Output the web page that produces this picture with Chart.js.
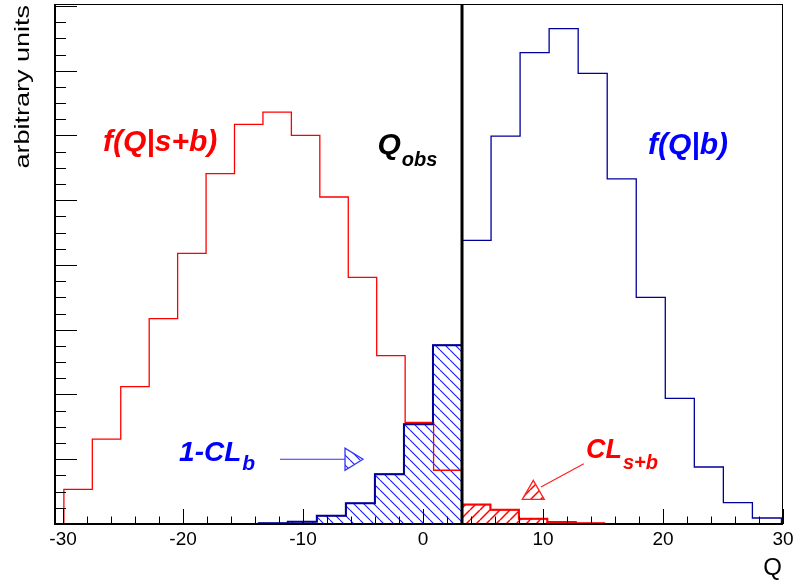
<!DOCTYPE html>
<html>
<head>
<meta charset="utf-8">
<script src="https://cdn.jsdelivr.net/npm/chart.js@4.4.1/dist/chart.umd.min.js"></script>
<style>
  html, body { margin: 0; padding: 0; background: #fff; }
</style>
</head>
<body>
<canvas id="c" width="794" height="582"></canvas>
<script>
// f(Q|s+b) : bin edges and contents (arbitrary units)
var sbEdges = [-29.93, -27.56, -25.19, -22.82, -20.45, -18.08, -15.71, -13.34, -10.97, -8.60,
               -6.23, -3.86, -1.49, 0.88, 3.25, 5.62, 7.99, 10.36, 12.73, 15.10];
var sbValues = [0.535, 1.31, 2.12, 3.17, 4.18, 5.41, 6.17, 6.36, 6.00, 5.05,
                3.81, 2.60, 1.57, 0.83, 0.30, 0.22, 0.08, 0.03, 0.01];

// f(Q|b)
var bEdges = [-13.69, -11.27, -8.85, -6.43, -4.01, -1.59, 0.83, 3.25, 5.67, 8.09,
              10.51, 12.93, 15.35, 17.77, 20.19, 22.61, 25.03, 27.45, 29.87];
var bValues = [0.01, 0.036, 0.128, 0.32, 0.77, 1.54, 2.76, 4.38, 5.99, 7.28,
               7.65, 6.96, 5.33, 3.50, 1.94, 0.88, 0.33, 0.093];

var qObs = 3.25;
var xTickLabels = [-30, -20, -10, 0, 10, 20, 30];
var xMin = -30.67, xMax = 30;
var yMin = 0, yMax = 8.03;

var FONT = '"Liberation Sans", Arial, Helvetica, sans-serif';
var NAVY = '#000099';

// index of first bin right of Q_obs, per histogram
var sbCut = sbEdges.indexOf(qObs);
var bCut = bEdges.indexOf(qObs);

function stepPoints(edges, values, from, to, lo, hi) {
  var pts = [];
  if (lo !== undefined) pts.push({x: lo, y: 0});
  pts.push({x: edges[from], y: 0});
  for (var i = from; i < to; i++) pts.push({x: edges[i], y: values[i]});
  pts.push({x: edges[to], y: 0});
  if (hi !== undefined) pts.push({x: hi, y: 0});
  return pts;
}

// hatch pattern, '\' when back is true, '/' otherwise
function hatch(color, s, width, back) {
  var c = document.createElement('canvas');
  c.width = s; c.height = s;
  var g = c.getContext('2d');
  g.strokeStyle = color;
  g.lineWidth = width;
  g.beginPath();
  [-s, 0, s].forEach(function(off) {
    if (back) { g.moveTo(off, 0); g.lineTo(off + s, s); }
    else { g.moveTo(off, s); g.lineTo(off + s, 0); }
  });
  g.stroke();
  return g.createPattern(c, 'repeat');
}

var blueHatch = hatch('#1a1aff', 10, 1.1, true);
var redHatch = hatch('#ff0000', 10, 1.5, false);

function drawLabel(ctx, x, y, main, sub, size, subSize, drop, color) {
  ctx.save();
  ctx.fillStyle = color;
  ctx.textBaseline = 'alphabetic';
  ctx.textAlign = 'left';
  ctx.font = 'italic bold ' + size + 'px ' + FONT;
  ctx.fillText(main, x, y);
  if (sub) {
    var w = ctx.measureText(main).width;
    ctx.font = 'italic bold ' + subSize + 'px ' + FONT;
    ctx.fillText(sub, x + w + 1, y + drop);
  }
  ctx.restore();
}

function arrowHead(ctx, tipX, tipY, baseX, baseY, half, color, pattern) {
  var dx = tipX - baseX, dy = tipY - baseY;
  var len = Math.sqrt(dx * dx + dy * dy);
  var nx = -dy / len * half, ny = dx / len * half;
  ctx.save();
  ctx.beginPath();
  ctx.moveTo(tipX, tipY);
  ctx.lineTo(baseX + nx, baseY + ny);
  ctx.lineTo(baseX - nx, baseY - ny);
  ctx.closePath();
  ctx.fillStyle = pattern;
  ctx.fill();
  ctx.strokeStyle = color;
  ctx.lineWidth = 1.3;
  ctx.stroke();
  ctx.restore();
}

var decor = {
  id: 'decor',
  afterDatasetsDraw: function(chart) {
    var ctx = chart.ctx, a = chart.chartArea, x = chart.scales.x;
    var px = x.getPixelForValue(qObs);
    ctx.save();
    ctx.strokeStyle = '#000';
    ctx.lineWidth = 3;
    ctx.beginPath();
    ctx.moveTo(px, a.bottom);
    ctx.lineTo(px, a.top);
    ctx.stroke();
    ctx.restore();
  },
  afterDraw: function(chart) {
    var ctx = chart.ctx, a = chart.chartArea;
    var x = chart.scales.x, y = chart.scales.y;
    ctx.save();

    // frame
    ctx.strokeStyle = '#000';
    ctx.lineWidth = 1;
    ctx.strokeRect(a.left + 0.5, a.top + 0.5, a.right - a.left - 1, a.bottom - a.top);
    ctx.lineWidth = 2;
    ctx.beginPath();
    ctx.moveTo(a.left, a.top);
    ctx.lineTo(a.left, a.bottom);
    ctx.lineTo(a.right, a.bottom);
    ctx.stroke();

    // x ticks, inside the frame
    ctx.lineWidth = 1;
    ctx.beginPath();
    for (var v = -30; v <= 30; v += 2) {
      var tx = Math.round(x.getPixelForValue(v)) + 0.5;
      var major = v % 10 === 0;
      ctx.moveTo(tx, a.bottom);
      ctx.lineTo(tx, a.bottom - (major ? 15 : 7.5));
    }
    // y ticks
    for (var k = 0; k <= 32; k++) {
      var ty = Math.round(y.getPixelForValue(k * 0.25)) + 0.5;
      ctx.moveTo(a.left, ty);
      ctx.lineTo(a.left + (k % 4 === 0 ? 22 : 11), ty);
    }
    ctx.stroke();

    // axis titles
    ctx.fillStyle = '#000';
    ctx.font = '24px ' + FONT;
    ctx.textAlign = 'right';
    ctx.textBaseline = 'alphabetic';
    ctx.fillText('Q', a.right - 1, 575);

    ctx.save();
    ctx.translate(29, a.top + 1);
    ctx.rotate(-Math.PI / 2);
    ctx.scale(1.35, 1);
    ctx.font = '20px ' + FONT;
    ctx.textAlign = 'right';
    ctx.fillText('arbitrary units', 0, 0);
    ctx.restore();

    // labels
    drawLabel(ctx, x.getPixelForValue(-26.67), y.getPixelForValue(5.76), 'f(Q|s+b)', '', 30, 0, 0, '#ff0000');
    drawLabel(ctx, x.getPixelForValue(-3.8), y.getPixelForValue(5.71), 'Q', 'obs', 30, 20, 12, '#000');
    drawLabel(ctx, x.getPixelForValue(18.75), y.getPixelForValue(5.72), 'f(Q|b)', '', 30, 0, 0, '#0000ff');
    drawLabel(ctx, x.getPixelForValue(-20.33), y.getPixelForValue(0.977), '1-CL', 'b', 28, 21, 9, '#0000ff');
    drawLabel(ctx, x.getPixelForValue(13.58), y.getPixelForValue(1.015), 'CL', 's+b', 27, 20, 11, '#ff0000');

    // 1-CL_b arrow
    var bx0 = x.getPixelForValue(-11.92), bx1 = x.getPixelForValue(-6.5), by = y.getPixelForValue(1.0);
    ctx.strokeStyle = '#3333ff';
    ctx.lineWidth = 1.2;
    ctx.beginPath();
    ctx.moveTo(bx0, by);
    ctx.lineTo(bx1, by);
    ctx.stroke();
    arrowHead(ctx, x.getPixelForValue(-5.0), by, bx1, by, 11, '#3333ff', blueHatch);

    // CL_s+b arrow
    var rx0 = x.getPixelForValue(13.4), ry0 = y.getPixelForValue(0.93);
    var rx1 = x.getPixelForValue(9.83), ry1 = y.getPixelForValue(0.57);
    ctx.strokeStyle = '#ff2222';
    ctx.beginPath();
    ctx.moveTo(rx0, ry0);
    ctx.lineTo(rx1, ry1);
    ctx.stroke();
    var hx = x.getPixelForValue(9.19), hy = y.getPixelForValue(0.38);
    arrowHead(ctx, hx, hy - 19, hx, hy, 11, '#ff2222', redHatch);

    ctx.restore();
  }
};

new Chart(document.getElementById('c'), {
  type: 'line',
  data: {
    datasets: [
      { // f(Q|b) outline
        data: stepPoints(bEdges, bValues, 0, bValues.length, xMin, xMax),
        borderColor: NAVY, borderWidth: 1.3, stepped: true, fill: false, order: 0
      },
      { // f(Q|s+b) outline
        data: stepPoints(sbEdges, sbValues, 0, sbValues.length),
        borderColor: '#ff0000', borderWidth: 1.3, stepped: true, fill: false, order: 1
      },
      { // CL_s+b region
        data: stepPoints(sbEdges, sbValues, sbCut, sbValues.length),
        borderColor: '#ff0000', borderWidth: 2, stepped: true,
        fill: 'origin', backgroundColor: redHatch, order: 2
      },
      { // 1-CL_b region
        data: stepPoints(bEdges, bValues, 0, bCut),
        borderColor: NAVY, borderWidth: 2, stepped: true,
        fill: 'origin', backgroundColor: blueHatch, order: 3
      }
    ]
  },
  options: {
    responsive: false,
    animation: false,
    events: [],
    layout: { padding: { left: 0, right: 11, top: 4, bottom: 0 } },
    elements: { point: { radius: 0 }, line: { tension: 0 } },
    plugins: { legend: { display: false }, tooltip: { enabled: false } },
    scales: {
      x: {
        type: 'linear', min: xMin, max: xMax,
        afterBuildTicks: function(s) { s.ticks = xTickLabels.map(function(v) { return {value: v}; }); },
        afterFit: function(s) { s.height = 58; s.paddingLeft = 0; s.paddingRight = 0; },
        grid: { display: false, drawTicks: false },
        border: { display: false },
        ticks: { color: '#000', font: { family: FONT, size: 19 }, padding: 4, maxRotation: 0, autoSkip: false }
      },
      y: {
        type: 'linear', min: yMin, max: yMax,
        afterFit: function(s) { s.width = 55; },
        grid: { display: false, drawTicks: false },
        border: { display: false },
        ticks: { display: false }
      }
    }
  },
  plugins: [decor]
});
</script>
</body>
</html>
